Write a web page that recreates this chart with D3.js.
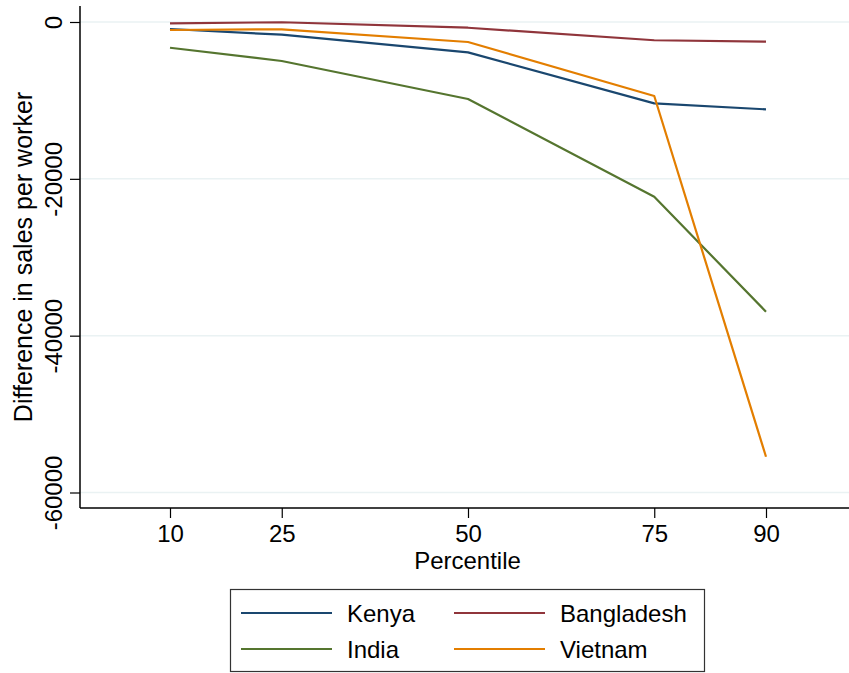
<!DOCTYPE html>
<html><head><meta charset="utf-8">
<script src="https://cdn.jsdelivr.net/npm/d3@7"></script>
<style>body{margin:0;background:#fff}svg{display:block}text{font-family:"Liberation Sans",Arial,Helvetica,sans-serif;fill:#000}</style>
</head><body><svg id="c" width="849" height="673"></svg>
<script>
const percentiles = [10, 25, 50, 75, 90];
const kenya      = [-890, -1620, -3870, -10370, -11140];
const bangladesh = [-170, -30, -730, -2330, -2510];
const india      = [-3280, -4970, -9820, -22280, -36950];
const vietnam    = [-1020, -930, -2550, -9440, -55440];
const yTicks = [0, -20000, -40000, -60000];
const seriesNames = ["Kenya", "Bangladesh", "India", "Vietnam"];
const seriesColors = ["#1a476f", "#90353b", "#55752f", "#e37e00"];
const seriesValues = [kenya, bangladesh, india, vietnam];

const svg = d3.select("#c");
const x = d3.scaleLinear().domain([10, 90]).range([170, 766]);
const y = d3.scaleLinear().domain([0, -60000]).range([22, 492.5]);
const pLeft = 80, pRight = 849, pBottom = 508, pTop = 6;
const fmt = d => String(d);

// gridlines
svg.append("g").selectAll("line").data(yTicks).join("line")
  .attr("x1", pLeft).attr("x2", pRight)
  .attr("y1", d => y(d)).attr("y2", d => y(d))
  .attr("stroke", "#eaf2f3").attr("stroke-width", 1.5);

// y axis
const ya = svg.append("g").attr("transform", `translate(${pLeft},0)`)
  .call(d3.axisLeft(y).tickValues(yTicks).tickSize(10).tickPadding(0).tickFormat(fmt));
ya.select(".domain").remove();
ya.selectAll(".tick line").attr("stroke", "#000").attr("stroke-width", 1.2);
ya.selectAll(".tick text").attr("font-size", 24).attr("text-anchor", "middle")
  .attr("x", 0).attr("dy", 0).attr("y", 0)
  .attr("transform", "translate(-18,0) rotate(-90)");
svg.append("line").attr("x1", pLeft).attr("x2", pLeft).attr("y1", pTop).attr("y2", pBottom)
  .attr("stroke", "#000").attr("stroke-width", 1.5);

// x axis
const xa = svg.append("g").attr("transform", `translate(0,${pBottom})`)
  .call(d3.axisBottom(x).tickValues(percentiles).tickSize(10).tickPadding(7).tickFormat(fmt));
xa.select(".domain").remove();
xa.selectAll(".tick line").attr("stroke", "#000").attr("stroke-width", 1.2);
xa.selectAll(".tick text").attr("font-size", 24).attr("dy", "0.71em");
svg.append("line").attr("x1", pLeft).attr("x2", pRight).attr("y1", pBottom).attr("y2", pBottom)
  .attr("stroke", "#000").attr("stroke-width", 1.5);

// titles
svg.append("text").attr("x", 467.5).attr("y", 569).attr("text-anchor", "middle")
  .attr("font-size", 24).text("Percentile");
svg.append("text").attr("transform", "translate(32,257) rotate(-90)").attr("text-anchor", "middle")
  .attr("font-size", 25).text("Difference in sales per worker");

// lines
const line = d3.line().x((d, i) => x(percentiles[i])).y(d => y(d));
svg.append("g").selectAll("path").data(seriesValues).join("path")
  .attr("d", d => line(d)).attr("fill", "none")
  .attr("stroke", (d, i) => seriesColors[i]).attr("stroke-width", 2.2)
  .attr("stroke-linejoin", "round");

// legend
svg.append("rect").attr("x", 230.5).attr("y", 589.5).attr("width", 474).attr("height", 82)
  .attr("fill", "#fff").attr("stroke", "#333").attr("stroke-width", 1.2);
const legPos = [[241, 613], [454, 613], [241, 649], [454, 649]];
seriesNames.forEach((n, i) => {
  const [lx, ly] = legPos[i];
  svg.append("line").attr("x1", lx).attr("x2", lx + 91).attr("y1", ly).attr("y2", ly)
    .attr("stroke", seriesColors[i]).attr("stroke-width", 2.2);
  svg.append("text").attr("x", lx + 106).attr("y", ly + 9).attr("font-size", 24).text(n);
});
</script></body></html>
